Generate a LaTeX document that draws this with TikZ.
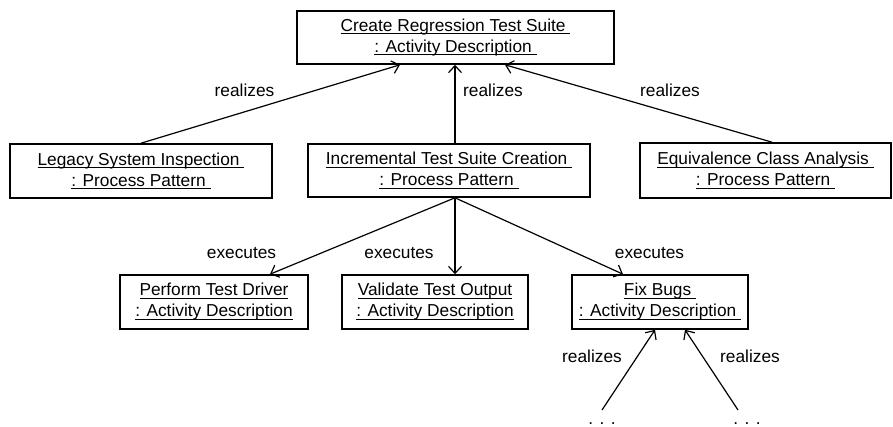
\documentclass[tikz,border=0pt]{standalone}
\usepackage{fontspec}
\setmainfont{Liberation Sans}
\usetikzlibrary{arrows.meta}

\newsavebox{\objbox}
\newcommand{\objul}[1]{\sbox{\objbox}{#1}\rlap{\usebox{\objbox}}\rule[-3pt]{\wd\objbox}{1.2pt}}

\begin{document}
\begin{tikzpicture}[
  x=1pt, y=-1pt,
  obj/.style={draw, line width=1.6pt, inner sep=0pt, align=center, font=\fontsize{17.3}{21}\selectfont},
  lbl/.style={anchor=base, inner sep=0pt, font=\fontsize{17.3}{21}\selectfont},
  link/.style={-{Straight Barb[length=7pt,width=13pt]}, line width=1.2pt}
]
\useasboundingbox (0,0) rectangle (893,427);

\node[obj, minimum width=317pt, minimum height=53pt] (suite) at (455.5,37.5)
  {\objul{Create Regression Test Suite\ }\\\objul{: Activity Description\ }};

\node[obj, minimum width=262pt, minimum height=54pt] (legacy) at (141,171)
  {\objul{Legacy System Inspection\ }\\\objul{: Process Pattern\ }};
\node[obj, minimum width=282pt, minimum height=53pt] (incr) at (449,170.5)
  {\objul{Incremental Test Suite Creation\ }\\\objul{: Process Pattern\ }};
\node[obj, minimum width=251pt, minimum height=55pt] (equiv) at (765.5,170.5)
  {\objul{Equivalence Class Analysis\ }\\\objul{: Process Pattern\ }};

\node[obj, minimum width=188pt, minimum height=54pt] (perform) at (214,302)
  {\objul{Perform Test Driver}\\\objul{: Activity Description}};
\node[obj, minimum width=186pt, minimum height=54pt] (validate) at (435,302)
  {\objul{Validate Test Output}\\\objul{: Activity Description}};
\node[obj, minimum width=176pt, minimum height=54pt] (fixbugs) at (660,302)
  {\objul{Fix Bugs\ }\\\objul{: Activity Description\ }};

\node[lbl] (moreL) at (602,424) {. . .};
\node[lbl] (moreR) at (747,424) {. . .};
\coordinate (fromL) at (602,410);
\coordinate (fromR) at (738,410);

% realizes
\draw[link] (legacy.north) -- ([xshift=-55.5pt]suite.south);
\draw[link] ([xshift=6pt]incr.north) -- ([xshift=6pt]incr.north |- suite.south);
\draw[link] ([xshift=6.5pt]equiv.north) -- ([xshift=49.5pt]suite.south);
\node[lbl] (rl1) at (244.5,97) {realizes};
\node[lbl] (rl2) at (493,97) {realizes};
\node[lbl] (rl3) at (670,97) {realizes};

% executes
\draw[link] ([xshift=6pt]incr.south) -- ([xshift=56pt]perform.north);
\draw[link] ([xshift=6pt]incr.south) -- ([xshift=6pt]incr.south |- validate.north);
\draw[link] ([xshift=6pt]incr.south) -- ([xshift=-37pt]fixbugs.north);
\node[lbl] (ex1) at (241.5,259) {executes};
\node[lbl] (ex2) at (399,259) {executes};
\node[lbl] (ex3) at (649.5,259) {executes};

% realizes (fix bugs)
\draw[link] (fromL) -- ([xshift=-5pt]fixbugs.south);
\draw[link] (fromR) -- ([xshift=25pt]fixbugs.south);
\node[lbl] (rl4) at (592,362) {realizes};
\node[lbl] (rl5) at (750,362) {realizes};

\end{tikzpicture}
\end{document}
